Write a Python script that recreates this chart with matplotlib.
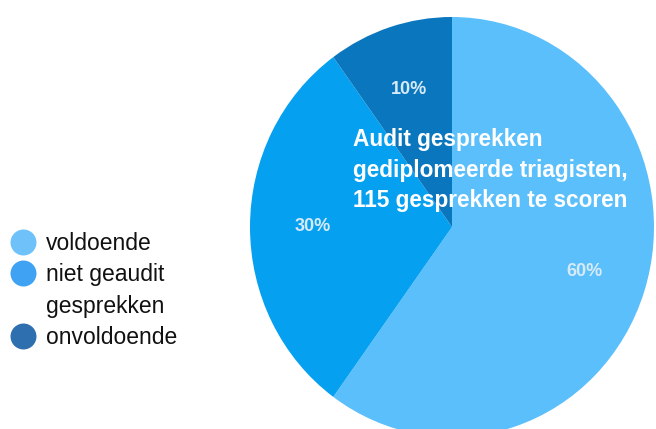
import matplotlib
matplotlib.use("Agg")
import matplotlib.pyplot as plt
from matplotlib.lines import Line2D

# Data
categories = ["voldoende", "niet geaudit gesprekken", "onvoldoende"]
shares = [60, 30, 10]
pie_colors = ["#5BBFFB", "#05A0F0", "#0A76BE"]
legend_labels = ["voldoende", "niet geaudit", "gesprekken", "onvoldoende"]
legend_colors = ["#6EC1F9", "#3FA2F2", None, "#2E6FAF"]
title_text = "Audit gesprekken\ngediplomeerde triagisten,\n115 gesprekken te scoren"

plt.rcParams['font.family'] = ['Liberation Sans', 'DejaVu Sans']

W, H = 656, 429
fig = plt.figure(figsize=(W / 100, H / 100), dpi=100)

# Pie axes: center (452,227), radius ~202 px horizontally, ~210 px vertically
cx, cy, rx, ry = 452, 227, 202, 210
ax = fig.add_axes([(cx - rx) / W, (H - (cy + ry)) / H, 2 * rx / W, 2 * ry / H])
wedges, texts, autotexts = ax.pie(
    shares, colors=pie_colors, startangle=90, counterclock=False,
    autopct='%d%%', pctdistance=0.69,
    wedgeprops=dict(linewidth=0),
    textprops=dict(color='#D6EAF8', fontsize=13, fontweight='bold'),
)
ax.set_aspect('auto')
ax.set_xlim(-1, 1)
ax.set_ylim(-1, 1)
ax.axis('off')

# Title inside the pie
fig.text(353 / W, (H - 170) / H, title_text, ha='left', va='center',
         color='white', fontsize=16.3, fontweight='bold', linespacing=1.41)

# Legend (4 rows, third row is continuation of second label)
handles = []
for c in legend_colors:
    if c is None:
        handles.append(Line2D([], [], linestyle='none', marker=None))
    else:
        handles.append(Line2D([], [], linestyle='none', marker='o',
                              markersize=18.7, markerfacecolor=c,
                              markeredgewidth=0))
fig.legend(handles, legend_labels, loc='upper left',
           bbox_to_anchor=(9.4 / W, (H - 232) / H),
           frameon=False, fontsize=16.5, borderpad=0, borderaxespad=0,
           handlelength=1.15, handletextpad=0.45, labelspacing=0.37,
           labelcolor='#111111')

fig.savefig("out.png", dpi=100)
